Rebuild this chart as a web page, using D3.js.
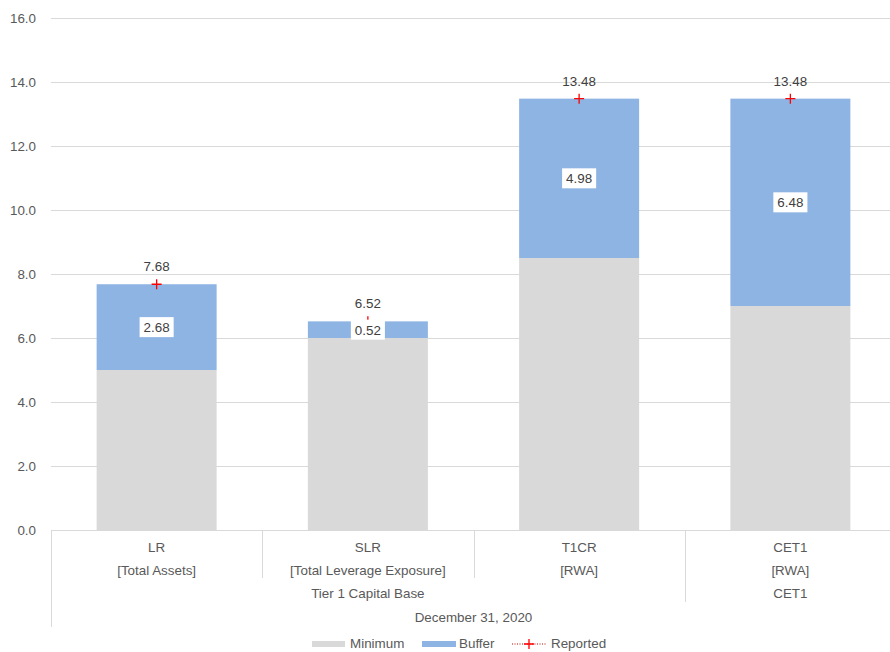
<!DOCTYPE html>
<html>
<head>
<meta charset="utf-8">
<script src="https://cdn.jsdelivr.net/npm/d3@7"></script>
<style>
  body { margin: 0; background: #fff; }
  svg { display: block; font-family: "Liberation Sans", Arial, sans-serif; }
</style>
</head>
<body>
<svg id="chart" width="890" height="652"></svg>
<script>
// Capital ratios at December 31, 2020
const categories = ["LR", "SLR", "T1CR", "CET1"];
const subLabels = ["[Total Assets]", "[Total Leverage Exposure]", "[RWA]", "[RWA]"];
const groups = [
  { label: "Tier 1 Capital Base", from: 0, to: 2 },
  { label: "CET1", from: 3, to: 3 }
];
const periodLabel = "December 31, 2020";
const minimum = [5.0, 6.0, 8.5, 7.0];
const buffer = [2.68, 0.52, 4.98, 6.48];
const reported = [7.68, 6.52, 13.48, 13.48];
const yTicks = [0, 2, 4, 6, 8, 10, 12, 14, 16];

const colors = { minimum: "#d9d9d9", buffer: "#8eb4e3", reported: "#ff0000", text: "#404040", grid: "#d9d9d9" };
const fontSize = "13.4px";

const svg = d3.select("#chart");
const plotLeft = 51, plotRight = 896, plotTop = 18, plotBottom = 530, clipRight = 890;

const x = d3.scaleBand().domain(categories).range([plotLeft, plotRight]).paddingInner(0).paddingOuter(0);
const y = d3.scaleLinear().domain([0, 16]).range([plotBottom, plotTop]);
const barW = 120;

// gridlines
svg.append("g").selectAll("line").data(yTicks).join("line")
  .attr("x1", plotLeft).attr("x2", clipRight)
  .attr("y1", d => Math.round(y(d)) + 0.5).attr("y2", d => Math.round(y(d)) + 0.5)
  .attr("stroke", colors.grid).attr("stroke-width", 1);

// y axis labels
const yAxis = d3.axisLeft(y).tickValues(yTicks).tickFormat(d3.format(".1f")).tickSize(0).tickPadding(15);
const yg = svg.append("g").attr("transform", `translate(${plotLeft},0)`).call(yAxis);
yg.select(".domain").remove();
yg.selectAll("text").attr("fill", "#595959").style("font-size", fontSize).style("font-family", "Liberation Sans, Arial, sans-serif");

// stacked bars
const bars = svg.append("g");
bars.selectAll("rect.min").data(categories).join("rect").attr("class", "min")
  .attr("x", d => x(d) + x.bandwidth() / 2 - barW / 2).attr("width", barW)
  .attr("y", (d, i) => y(minimum[i])).attr("height", (d, i) => y(0) - y(minimum[i]))
  .attr("fill", colors.minimum);
bars.selectAll("rect.buf").data(categories).join("rect").attr("class", "buf")
  .attr("x", d => x(d) + x.bandwidth() / 2 - barW / 2).attr("width", barW)
  .attr("y", (d, i) => y(minimum[i] + buffer[i])).attr("height", (d, i) => y(minimum[i]) - y(minimum[i] + buffer[i]))
  .attr("fill", colors.buffer);

// reported markers (+)
const mk = svg.append("g");
categories.forEach((c, i) => {
  const cx = x(c) + x.bandwidth() / 2, cy = y(reported[i]);
  mk.append("path").attr("d", `M${cx - 5},${cy}H${cx + 5}M${cx},${cy - 5}V${cy + 5}`)
    .attr("stroke", colors.reported).attr("stroke-width", 1.3);
});

// reported value labels above bars
svg.append("g").selectAll("text").data(categories).join("text")
  .attr("x", d => x(d) + x.bandwidth() / 2)
  .attr("y", (d, i) => y(reported[i]) - 13)
  .attr("text-anchor", "middle").attr("fill", colors.text).style("font-size", fontSize)
  .text((d, i) => reported[i].toFixed(2));

// buffer labels with white boxes
const bl = svg.append("g");
categories.forEach((c, i) => {
  const cx = x(c) + x.bandwidth() / 2, cy = y(minimum[i] + buffer[i] / 2);
  const g = bl.append("g");
  const t = g.append("text").attr("x", cx).attr("y", cy + 5)
    .attr("text-anchor", "middle").attr("fill", colors.text).style("font-size", fontSize)
    .text(buffer[i].toFixed(2));
  const bb = t.node().getBBox();
  g.insert("rect", "text").attr("x", bb.x - 4).attr("y", cy - 10).attr("width", bb.width + 8).attr("height", 20).attr("fill", "#fff");
});

// category axis
const ax = svg.append("g");
ax.append("line").attr("x1", plotLeft).attr("x2", clipRight).attr("y1", plotBottom + 0.5).attr("y2", plotBottom + 0.5).attr("stroke", colors.grid);
const sep = [
  { x: x.range()[0], len: 97 },
  { x: x(categories[1]), len: 48 },
  { x: x(categories[2]), len: 48 },
  { x: x(categories[3]), len: 72 }
];
ax.selectAll("line.sep").data(sep).join("line").attr("class", "sep")
  .attr("x1", d => Math.round(d.x) + 0.5).attr("x2", d => Math.round(d.x) + 0.5)
  .attr("y1", plotBottom).attr("y2", d => plotBottom + d.len).attr("stroke", colors.grid);

const lbl = (xx, yy, txt) => ax.append("text").attr("x", xx).attr("y", yy).attr("text-anchor", "middle")
  .attr("fill", "#595959").style("font-size", fontSize).text(txt);
categories.forEach((c, i) => {
  const cx = x(c) + x.bandwidth() / 2;
  lbl(cx, 552, c);
  lbl(cx, 575, subLabels[i]);
});
groups.forEach(g => {
  const x0 = x(categories[g.from]), x1 = x(categories[g.to]) + x.bandwidth();
  lbl((x0 + x1) / 2, 598, g.label);
});
lbl((x.range()[0] + x.range()[1]) / 2, 622, periodLabel);

// legend
const lg = svg.append("g");
lg.append("rect").attr("x", 312).attr("y", 641).attr("width", 33).attr("height", 6).attr("fill", colors.minimum);
lg.append("text").attr("x", 350).attr("y", 648).attr("fill", "#595959").style("font-size", fontSize).text("Minimum");
lg.append("rect").attr("x", 422).attr("y", 641).attr("width", 34).attr("height", 6).attr("fill", colors.buffer);
lg.append("text").attr("x", 459).attr("y", 648).attr("fill", "#595959").style("font-size", fontSize).text("Buffer");
lg.append("line").attr("x1", 512).attr("x2", 547).attr("y1", 644).attr("y2", 644)
  .attr("stroke", "#c00000").attr("stroke-width", 1).attr("stroke-dasharray", "1,1.5");
lg.append("path").attr("d", "M524,644H534M529,639V649").attr("stroke", colors.reported).attr("stroke-width", 1.3);
lg.append("text").attr("x", 551).attr("y", 648).attr("fill", "#595959").style("font-size", fontSize).text("Reported");
</script>
</body>
</html>
